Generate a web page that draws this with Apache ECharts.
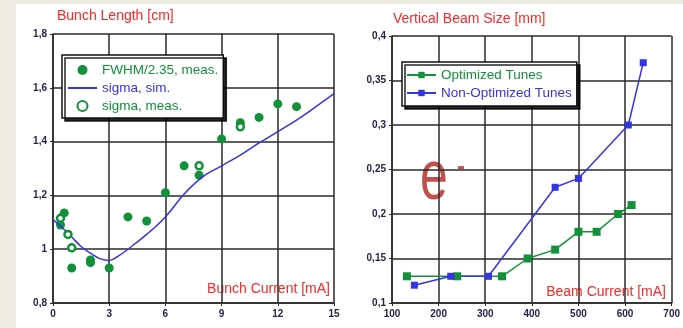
<!DOCTYPE html>
<html>
<head>
<meta charset="utf-8">
<script src="https://cdn.jsdelivr.net/npm/echarts@6/dist/echarts.min.js"></script>
<style>
  html, body { margin: 0; padding: 0; background: #edebe2; }
  #main { position: absolute; left: 16px; top: 4px; width: 667px; height: 324px; background: #fff; }
</style>
</head>
<body>
<div id="main"></div>
<script>
// left panel: bunch length vs bunch current
var fwhmX = [0.4, 0.6, 1.0, 2.0, 2.0, 3.0, 4.0, 5.0, 6.0, 7.0, 7.8, 9.0, 10.0, 11.0, 12.0, 13.0];
var fwhmY = [1.09, 1.135, 0.93, 0.95, 0.96, 0.93, 1.12, 1.105, 1.21, 1.31, 1.275, 1.41, 1.47, 1.49, 1.54, 1.53];
var sigmaMeasX = [0.4, 0.8, 1.0, 7.8, 10.0];
var sigmaMeasY = [1.115, 1.055, 1.005, 1.31, 1.455];
var simX = [0, 0.5, 1, 1.5, 2, 2.5, 3, 3.5, 4, 5, 6, 7, 8, 9, 10, 11, 12, 13, 14, 15];
var simY = [1.11, 1.08, 1.045, 1.01, 0.985, 0.965, 0.958, 0.975, 1.0, 1.055, 1.12, 1.205, 1.27, 1.31, 1.35, 1.395, 1.437, 1.48, 1.528, 1.578];

// right panel: vertical beam size vs beam current
var optX = [132, 240, 336, 391, 450, 500, 539, 585, 614];
var optY = [0.13, 0.13, 0.13, 0.15, 0.16, 0.18, 0.18, 0.2, 0.21];
var nonX = [148, 226, 307, 450, 500, 607, 639];
var nonY = [0.12, 0.13, 0.13, 0.23, 0.24, 0.3, 0.37];

var GREEN = '#12913a', BLUE = '#3434e0', RED = '#ff2626';

function pairs(xs, ys) {
  return xs.map(function (x, i) { return [x, ys[i]]; });
}
function comma(v) {
  return String(+v.toFixed(2)).replace('.', ',');
}

var gridLine = { show: true, lineStyle: { color: '#2a2a2a', width: 1.5 } };
var axisLabel = { color: '#24244a', fontSize: 10, fontWeight: 'bold', fontFamily: 'Liberation Sans', margin: 6, formatter: comma };
var axisLine = { show: true, onZero: false, lineStyle: { color: '#2a2a2a', width: 1.5 } };
var axisTick = { show: true, length: 3, lineStyle: { color: '#2a2a2a' } };
var titleFont = { color: RED, fontSize: 14, fontWeight: 'normal', fontFamily: 'Liberation Sans' };
var legendBox = {
  orient: 'vertical', itemGap: 4, itemWidth: 29,
  backgroundColor: '#fff', borderColor: '#111', borderWidth: 1.5,
  shadowColor: 'rgba(0,0,0,0.85)', shadowBlur: 0, shadowOffsetX: 3, shadowOffsetY: 3,
  textStyle: { fontSize: 13.5, fontFamily: 'Liberation Sans' }
};

var myChart = echarts.init(document.getElementById('main'));
var option = {
  animation: false,
  title: [
    { text: 'Bunch Length [cm]', left: 41, top: 5, padding: 0, textStyle: titleFont },
    { text: 'Vertical Beam Size [mm]', left: 377, top: 8, padding: 0, textStyle: titleFont }
  ],
  grid: [
    { left: 37, top: 30, width: 281, height: 269 },
    { left: 376, top: 32, width: 280, height: 267 }
  ],
  xAxis: [
    { type: 'value', gridIndex: 0, min: 0, max: 15, interval: 3, axisLine: axisLine, axisTick: axisTick, splitLine: gridLine, axisLabel: axisLabel },
    { type: 'value', gridIndex: 1, min: 100, max: 700, interval: 100, axisLine: axisLine, axisTick: axisTick, splitLine: gridLine, axisLabel: axisLabel }
  ],
  yAxis: [
    { type: 'value', gridIndex: 0, min: 0.8, max: 1.8, interval: 0.2, axisLine: axisLine, axisTick: axisTick, splitLine: gridLine, axisLabel: axisLabel },
    { type: 'value', gridIndex: 1, min: 0.1, max: 0.4, interval: 0.05, axisLine: axisLine, axisTick: axisTick, splitLine: gridLine, axisLabel: axisLabel }
  ],
  legend: [
    Object.assign({}, legendBox, {
      left: 46, top: 51, padding: [8, 5, 5, 5], itemHeight: 10,
      data: [
        { name: 'FWHM/2.35, meas.', textStyle: { color: GREEN } },
        { name: 'sigma, sim.', textStyle: { color: BLUE }, itemStyle: { opacity: 0 } },
        { name: 'sigma, meas.', textStyle: { color: GREEN } }
      ]
    }),
    Object.assign({}, legendBox, {
      left: 386, top: 58, padding: [6, 5, 6, 4], itemHeight: 8,
      data: [
        { name: 'Optimized Tunes', textStyle: { color: GREEN } },
        { name: 'Non-Optimized Tunes', textStyle: { color: BLUE } }
      ]
    })
  ],
  graphic: [
    { type: 'text', right: 667 - 314, top: 278, style: { text: 'Bunch Current [mA]', fill: RED, font: '14px Liberation Sans' } },
    { type: 'text', right: 667 - 650, top: 281, style: { text: 'Beam Current [mA]', fill: RED, font: '14px Liberation Sans' } },
    { type: 'text', x: 418, y: 176, scaleY: 1.4, style: { text: 'e', fill: '#c0504d', font: '50px Liberation Sans', align: 'center', verticalAlign: 'middle' } },
    { type: 'text', x: 445, y: 163, style: { text: '-', fill: '#c0504d', font: 'bold 24px Liberation Sans', align: 'center', verticalAlign: 'middle' } }
  ],
  series: [
    {
      name: 'FWHM/2.35, meas.', type: 'scatter', xAxisIndex: 0, yAxisIndex: 0,
      symbol: 'circle', symbolSize: 9, itemStyle: { color: GREEN, opacity: 1 },
      data: pairs(fwhmX, fwhmY)
    },
    {
      name: 'sigma, sim.', type: 'line', xAxisIndex: 0, yAxisIndex: 0, smooth: 0.4,
      symbol: 'none', lineStyle: { color: BLUE, width: 1.5 }, itemStyle: { color: BLUE },
      data: pairs(simX, simY)
    },
    {
      name: 'sigma, meas.', type: 'scatter', xAxisIndex: 0, yAxisIndex: 0, z: 3,
      symbol: 'circle', symbolSize: 7, itemStyle: { color: '#fff', borderColor: GREEN, borderWidth: 2.5, opacity: 1 },
      data: pairs(sigmaMeasX, sigmaMeasY)
    },
    {
      name: 'Optimized Tunes', type: 'line', xAxisIndex: 1, yAxisIndex: 1,
      symbol: 'rect', symbolSize: 8, lineStyle: { color: GREEN, width: 1.5 }, itemStyle: { color: GREEN },
      data: pairs(optX, optY)
    },
    {
      name: 'Non-Optimized Tunes', type: 'line', xAxisIndex: 1, yAxisIndex: 1,
      symbol: 'rect', symbolSize: 7, lineStyle: { color: BLUE, width: 1.5 }, itemStyle: { color: BLUE },
      data: pairs(nonX, nonY)
    }
  ]
};
myChart.setOption(option);
</script>
</body>
</html>
